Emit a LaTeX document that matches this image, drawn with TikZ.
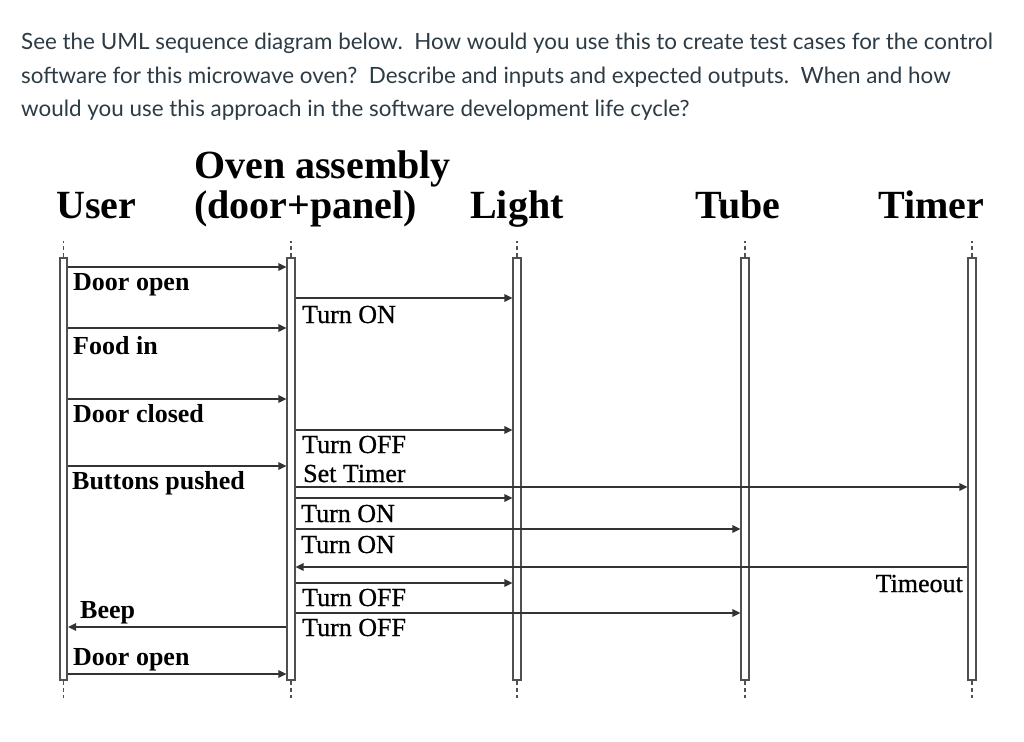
\documentclass[tikz,border=0pt]{standalone}
\usepackage{fontspec}
\setmainfont{Liberation Serif}
\newfontfamily\latofont{Lato}
\newfontfamily\heavyserif[FakeBold=0.7]{Liberation Serif}
\usetikzlibrary{arrows.meta}
\definecolor{para}{HTML}{2D3B45}
\definecolor{ln}{HTML}{333333}
\definecolor{barc}{HTML}{505050}
\tikzset{
  bar/.style={draw=barc, line width=1.7pt, fill=white, minimum width=7.5pt, inner sep=0pt},
  msg/.style={draw=ln, line width=1.5pt, -{Triangle[length=8pt,width=7.5pt]}},
  stub/.style={draw=barc, line width=1.2pt, dash pattern=on 4pt off 3pt},
  head/.style={font=\fontsize{40}{44}\selectfont\bfseries, anchor=base west, inner sep=0pt},
  ulab/.style={font=\fontsize{26}{28}\selectfont\bfseries, anchor=base west, inner sep=0pt},
  olab/.style={font=\heavyserif\fontsize{26}{28}\selectfont, anchor=base west, inner sep=0pt},
  ptext/.style={font=\latofont\fontsize{22.4}{26}\selectfont, text=para, anchor=base west, inner sep=0pt}
}
\begin{document}
\begin{tikzpicture}[x=1pt,y=-1pt]
\useasboundingbox[fill=white] (0,0) rectangle (1024,741);
% question text
\node[ptext] (p1) at (21,50) {See the UML sequence diagram below.\ \ How would you use this to create test cases for the control};
\node[ptext] (p2) at (21,84) {software for this microwave oven?\ \ Describe and inputs and expected outputs.\ \ When and how};
\node[ptext] (p3) at (21,117) {would you use this approach in the software development life cycle?};
% headers
\node[head] (hU) at (56,218) {User};
\node[head] (hO1) at (194,178) {Oven assembly};
\node[head] (hO2) at (194,218) {(door+panel)};
\node[head] (hL) at (470,218) {Light};
\node[head] (hT) at (695,218) {Tube};
\node[head] (hM) at (878,218) {Timer};
% lifeline bars (top 258, bottom 680)
\node[bar, minimum height=422pt] (U) at (63.5,469) {};
\node[bar, minimum height=422pt] (O) at (291,469) {};
\node[bar, minimum height=422pt] (L) at (517,469) {};
\node[bar, minimum height=422pt] (T) at (745,469) {};
\node[bar, minimum height=422pt] (M) at (972,469) {};
% stubs
\foreach \n in {U,O,L,T,M}{
  \draw[stub] (\n.north) -- ++(0,-16);
  \draw[stub] (\n.south) -- ++(0,17);
}
% user -> oven messages
\draw[msg] (U.east |- 0,267) -- (O.west |- 0,267);
\node[ulab] (l1) at (73,290) {Door open};
\draw[msg] (U.east |- 0,328) -- (O.west |- 0,328);
\node[ulab] (l2) at (73,354) {Food in};
\draw[msg] (U.east |- 0,399) -- (O.west |- 0,399);
\node[ulab] (l3) at (73,422) {Door closed};
\draw[msg] (U.east |- 0,466) -- (O.west |- 0,466);
\node[ulab] (l4) at (72,489) {Buttons pushed};
\draw[msg] (O.west |- 0,627) -- (U.east |- 0,627);
\node[ulab] (l5) at (80,618) {Beep};
\draw[msg] (U.east |- 0,674) -- (O.west |- 0,674);
\node[ulab] (l6) at (73,665) {Door open};
% oven -> devices
\draw[msg] (O.east |- 0,298) -- (L.west |- 0,298);
\node[olab] (m1) at (302,323) {Turn ON};
\draw[msg] (O.east |- 0,430) -- (L.west |- 0,430);
\node[olab] (m2) at (302,453) {Turn OFF};
\node[olab] (m3) at (303,482) {Set Timer};
\draw[msg] (O.east |- 0,487) -- (M.west |- 0,487);
\draw[msg] (O.east |- 0,498) -- (L.west |- 0,498);
\node[olab] (m4) at (301,522) {Turn ON};
\draw[msg] (O.east |- 0,529) -- (T.west |- 0,529);
\node[olab] (m5) at (301,553) {Turn ON};
\draw[msg] (M.west |- 0,567) -- (O.east |- 0,567);
\node[olab, anchor=base east] (m6) at (963,592) {Timeout};
\draw[msg] (O.east |- 0,583) -- (L.west |- 0,583);
\node[olab] (m7) at (302,606) {Turn OFF};
\draw[msg] (O.east |- 0,613) -- (T.west |- 0,613);
\node[olab] (m8) at (302,636) {Turn OFF};
\end{tikzpicture}
\end{document}
